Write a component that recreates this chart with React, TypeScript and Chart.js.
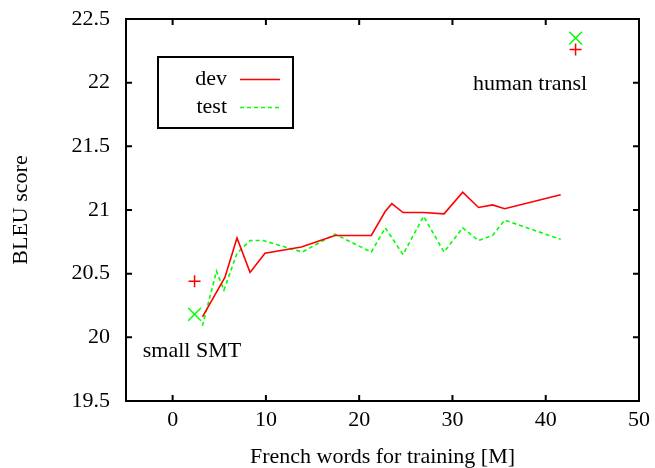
import { useEffect, useRef } from "react";
import { Chart, registerables } from "chart.js";

Chart.register(...registerables);

const devX = [3.2, 5.6, 6.9, 8.3, 9.9, 13.8, 17.4, 21.3, 22.8, 23.5, 24.7, 26.9, 29.1, 31.1, 32.8, 34.3, 35.6, 41.6];
const devY = [20.16, 20.47, 20.78, 20.51, 20.66, 20.71, 20.8, 20.8, 20.99, 21.05, 20.98, 20.98, 20.97, 21.14, 21.02, 21.04, 21.01, 21.12];
const testX = [3.2, 4.7, 5.5, 6.9, 8.3, 9.7, 13.9, 17.4, 21.3, 22.8, 24.7, 26.9, 29.1, 31.1, 32.8, 34.3, 35.6, 41.6];
const testY = [20.09, 20.52, 20.37, 20.66, 20.76, 20.76, 20.67, 20.81, 20.67, 20.86, 20.65, 20.95, 20.67, 20.86, 20.76, 20.8, 20.92, 20.77];
const devMarkX = [2.35, 43.2];
const devMarkY = [20.44, 22.26];
const testMarkX = [2.35, 43.2];
const testMarkY = [20.18, 22.35];
const xTicks = [0, 10, 20, 30, 40, 50];
const yTicks = [19.5, 20, 20.5, 21, 21.5, 22, 22.5];
const noteTexts = ["small SMT", "human transl"];
const noteX = [-3.2, 32.2];
const noteY = [19.89, 21.99];

const FONT = '"Liberation Serif", "Times New Roman", serif';
const RED = "#ff0000";
const GREEN = "#00ff00";

const gnuplotPlugin = {
  id: "gnuplotFrame",
  afterDraw(chart: any) {
    const { ctx, chartArea: a, scales } = chart;
    const xs = scales.x;
    const ys = scales.y;
    ctx.save();
    ctx.strokeStyle = "#000";
    ctx.lineWidth = 2;
    ctx.setLineDash([]);
    ctx.strokeRect(a.left, a.top, a.right - a.left, a.bottom - a.top);
    const tl = 6;
    ctx.beginPath();
    for (const t of xs.ticks) {
      const px = xs.getPixelForValue(t.value);
      ctx.moveTo(px, a.bottom);
      ctx.lineTo(px, a.bottom - tl);
      ctx.moveTo(px, a.top);
      ctx.lineTo(px, a.top + tl);
    }
    for (const t of ys.ticks) {
      const py = ys.getPixelForValue(t.value);
      ctx.moveTo(a.left, py);
      ctx.lineTo(a.left + tl, py);
      ctx.moveTo(a.right, py);
      ctx.lineTo(a.right - tl, py);
    }
    ctx.stroke();

    // annotations
    ctx.fillStyle = "#000";
    ctx.font = `22px ${FONT}`;
    ctx.textBaseline = "middle";
    ctx.textAlign = "left";
    noteTexts.forEach((t, i) => {
      ctx.fillText(t, xs.getPixelForValue(noteX[i]), ys.getPixelForValue(noteY[i]));
    });

    // legend
    ctx.lineWidth = 2;
    ctx.strokeRect(158, 57, 135, 71);
    const entries = chart.data.datasets.filter((d: any) => d.showLine);
    entries.forEach((d: any, i: number) => {
      const y = 79.5 + i * 28;
      ctx.fillStyle = "#000";
      ctx.textAlign = "right";
      ctx.fillText(d.label, 227, y);
      ctx.strokeStyle = d.borderColor;
      ctx.lineWidth = 1.5;
      ctx.setLineDash(d.borderDash || []);
      ctx.beginPath();
      ctx.moveTo(240, y);
      ctx.lineTo(280, y);
      ctx.stroke();
      ctx.setLineDash([]);
      ctx.strokeStyle = "#000";
      ctx.lineWidth = 2;
    });
    ctx.restore();
  },
};

const zeroPad = (s: any) => {
  s.paddingTop = 0;
  s.paddingBottom = 0;
  s.paddingLeft = 0;
  s.paddingRight = 0;
};

export default function App() {
  const ref = useRef<HTMLCanvasElement>(null);
  useEffect(() => {
    if (!ref.current) return;
    const pts = (xs: number[], ys: number[]) => xs.map((x, i) => ({ x, y: ys[i] }));
    const chart = new Chart(ref.current, {
      type: "scatter",
      data: {
        datasets: [
          {
            label: "dev",
            data: pts(devX, devY),
            showLine: true,
            borderColor: RED,
            borderWidth: 1.6,
            pointRadius: 0,
            fill: false,
          },
          {
            label: "test",
            data: pts(testX, testY),
            showLine: true,
            borderColor: GREEN,
            borderWidth: 1.6,
            borderDash: [4, 3],
            pointRadius: 0,
            fill: false,
          },
          {
            label: "dev marks",
            data: pts(devMarkX, devMarkY),
            showLine: false,
            pointStyle: "cross",
            pointRadius: 6,
            pointBorderColor: RED,
            pointBorderWidth: 1.5,
            borderColor: RED,
          },
          {
            label: "test marks",
            data: pts(testMarkX, testMarkY),
            showLine: false,
            pointStyle: "crossRot",
            pointRadius: 9,
            pointBorderColor: GREEN,
            pointBorderWidth: 1.5,
            borderColor: GREEN,
          },
        ],
      },
      options: {
        animation: false,
        responsive: true,
        maintainAspectRatio: false,
        layout: { padding: { top: 19, right: 16, left: 0, bottom: 0 } },
        plugins: { legend: { display: false }, tooltip: { enabled: false } },
        scales: {
          x: {
            type: "linear",
            min: -5,
            max: 50,
            afterBuildTicks: (s: any) => {
              s.ticks = xTicks.map((v) => ({ value: v }));
            },
            afterFit: (s: any) => {
              s.height = 67;
              zeroPad(s);
            },
            grid: { display: false, drawTicks: false },
            border: { display: false },
            ticks: {
              color: "#000",
              padding: 6,
              font: { family: FONT, size: 22 },
              callback: (v: any) => String(v),
              maxRotation: 0,
            },
            title: {
              display: true,
              text: "French words for training [M]",
              color: "#000",
              font: { family: FONT, size: 22, lineHeight: 1 },
              padding: { top: 0, bottom: 0 },
            },
          },
          y: {
            type: "linear",
            min: 19.5,
            max: 22.5,
            afterBuildTicks: (s: any) => {
              s.ticks = yTicks.map((v) => ({ value: v }));
            },
            afterFit: (s: any) => {
              s.width = 126;
              zeroPad(s);
            },
            grid: { display: false, drawTicks: false },
            border: { display: false },
            ticks: {
              color: "#000",
              padding: 16,
              font: { family: FONT, size: 22 },
              callback: (v: any) => String(v),
            },
            title: {
              display: true,
              text: "BLEU score",
              color: "#000",
              font: { family: FONT, size: 22, lineHeight: 1 },
              padding: { top: 10, bottom: 0 },
            },
          },
        },
      },
      plugins: [gnuplotPlugin],
    });
    return () => chart.destroy();
  }, []);
  return (
    <div style={{ position: "fixed", left: 0, top: 0, width: 655, height: 468, background: "#fff" }}>
      <canvas ref={ref} />
    </div>
  );
}
